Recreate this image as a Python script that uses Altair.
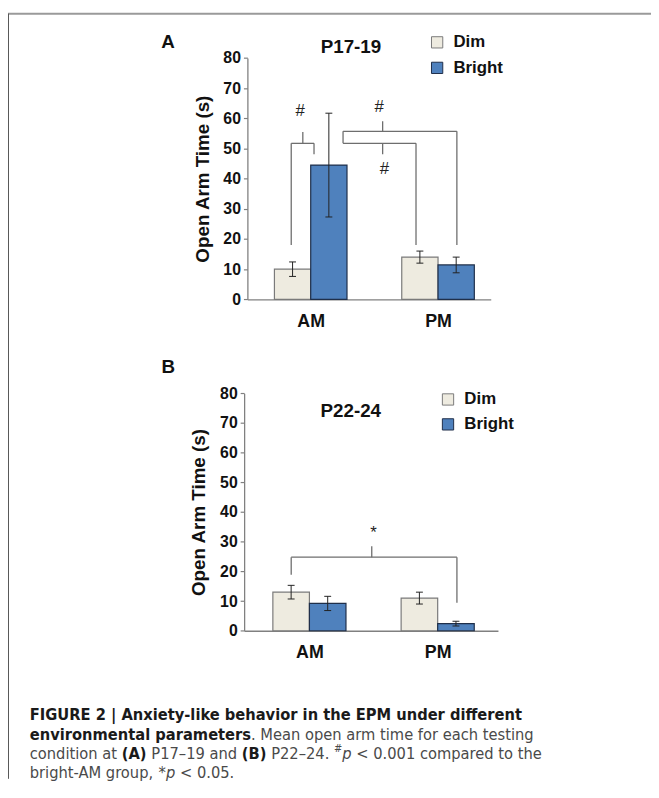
import altair as alt
import pandas as pd

# ---------------- data ----------------
groups = ["AM", "PM"]
series = ["Dim", "Bright"]
y_ticks = [0, 10, 20, 30, 40, 50, 60, 70, 80]

# Panel A (P17-19): mean open arm time (s) and SEM
a_dim_mean = [10.0, 14.0]
a_dim_sem = [2.4, 2.0]
a_bright_mean = [44.5, 11.4]
a_bright_sem = [17.2, 2.6]

# Panel B (P22-24)
b_dim_mean = [13.0, 11.0]
b_dim_sem = [2.3, 2.0]
b_bright_mean = [9.2, 2.4]
b_bright_sem = [2.4, 0.8]

# significance brackets (data units: x = group position, y = seconds)
a_br_left = [0.847, 1.254, 1.254]
a_br_right = [1.026, 2.148, 1.827]
a_br_top = [51.7, 55.7, 51.7]
a_br_left_foot = [18.0, 51.7, 51.7]
a_br_right_foot = [48.1, 18.0, 18.0]
a_br_mid = [0.938, 1.565, 1.565]
a_br_mid_end = [55.5, 59.0, 48.1]
a_sig_x = [0.918, 1.538, 1.578]
a_sig_y = [62.3, 63.8, 43.1]
a_sig_txt = ["#", "#", "#"]

b_br_left = [0.858]
b_br_right = [2.150]
b_br_top = [24.8]
b_br_left_foot = [18.9]
b_br_right_foot = [9.4]
b_br_mid = [1.486]
b_br_mid_end = [28.5]
b_sig_x = [1.50]
b_sig_y = [33.0]
b_sig_txt = ["*"]

title_a = "P17-19"
title_b = "P22-24"
y_title = "Open Arm Time (s)"

# caption: (line, text, weight, style, superscript)
caption_segments = [
    (0, "FIGURE 2 | Anxiety-like behavior in the EPM under different", "bold", "normal", False),
    (1, "environmental parameters", "bold", "normal", False),
    (1, ". Mean open arm time for each testing", "normal", "normal", False),
    (2, "condition at ", "normal", "normal", False),
    (2, "(A)", "bold", "normal", False),
    (2, " P17\u201319 and ", "normal", "normal", False),
    (2, "(B)", "bold", "normal", False),
    (2, " P22\u201324. ", "normal", "normal", False),
    (2, "#", "normal", "normal", True),
    (2, "p", "normal", "italic", False),
    (2, " < 0.001 compared to the", "normal", "normal", False),
    (3, "bright-AM group, ", "normal", "normal", False),
    (3, "*", "normal", "normal", False),
    (3, "p", "normal", "italic", False),
    (3, " < 0.05.", "normal", "normal", False),
]
caption_line_y = [710.3, 730.3, 750, 768.7]
CAP_X0 = 22
CAP_SIZE = 16.5
SUP_SIZE = 11

FONT = "Liberation Sans, Arial, Helvetica, sans-serif"
CAP_FONT = "DejaVu Sans Condensed, DejaVu Sans, sans-serif"
DIM_FILL = "#EEEBE0"
BRIGHT_FILL = "#4F81BD"
DIM_STROKE = "#7a7a7a"
BRIGHT_STROKE = "#1f2f4a"
BW = 0.285  # bar width in group units

# approximate advance widths of DejaVu Sans (units per 2048 em); condensed = 90 %
W_NORMAL = {" ": 651, "#": 1716, "(": 799, ")": 799, "*": 1024, ",": 651,
            "-": 739, ".": 651, "<": 1716, "A": 1401, "B": 1405, "M": 1767,
            "P": 1235, "a": 1255, "b": 1300, "c": 1126, "d": 1300, "e": 1260,
            "g": 1300, "h": 1298, "i": 569, "m": 1995, "n": 1298, "o": 1253,
            "p": 1300, "r": 842, "t": 803, "u": 1298, "\u2013": 1024}
W_BOLD = {" ": 713, "(": 936, ")": 936, "A": 1589, "B": 1566, "a": 1382,
          "e": 1389, "i": 702, "l": 702, "m": 2134, "n": 1460, "o": 1374,
          "p": 1466, "r": 1011, "s": 1219, "t": 979, "v": 1333}


def text_width(txt, size, bold):
    tbl = W_BOLD if bold else W_NORMAL
    u = sum(tbl.get(ch, 1303 if ch.isdigit() else 1250) for ch in txt)
    return u / 2048.0 * size * 0.9


def bar_table(dm, ds, bm, bs):
    rows = []
    for gi, g in enumerate(groups):
        for si, s in enumerate(series):
            m = [dm, bm][si][gi]
            e = [ds, bs][si][gi]
            c = (gi + 1) + (si - 0.5) * BW
            rows.append(dict(group=g, series=s, mean=m, sem=e,
                             xc=c, x0=c - BW / 2, x1=c + BW / 2,
                             lo=m - e, hi=m + e))
    return pd.DataFrame(rows)


def bracket_table(L, R, T, LF, RF, M, ME):
    rows = []
    for i in range(len(L)):
        rows.append(dict(x=L[i], x2=R[i], y=T[i], y2=T[i]))
        rows.append(dict(x=L[i], x2=L[i], y=T[i], y2=LF[i]))
        rows.append(dict(x=R[i], x2=R[i], y=T[i], y2=RF[i]))
        rows.append(dict(x=M[i], x2=M[i], y=T[i], y2=ME[i]))
    return pd.DataFrame(rows)


def panel(df, br, sig, xdom, xrange, yrange, legx, legy, rowpad):
    xs = alt.Scale(domain=xdom, range=xrange, nice=False, zero=False)
    ys = alt.Scale(domain=[0, 80], range=yrange, nice=False, zero=False)
    cs = alt.Scale(domain=series, range=[DIM_FILL, BRIGHT_FILL])
    ss = alt.Scale(domain=series, range=[DIM_STROKE, BRIGHT_STROKE])
    leg = alt.Legend(orient="none", legendX=legx, legendY=legy, title=None,
                     symbolType="square", symbolSize=130, symbolStrokeWidth=1,
                     labelFont=FONT, labelFontSize=17, labelFontWeight="bold",
                     labelColor="#111111", rowPadding=rowpad, labelOffset=8,
                     padding=0, symbolOpacity=1)
    yaxis = alt.Axis(orient="left", offset=-xrange[0], values=y_ticks,
                     tickSize=4, tickColor="#808080", domainColor="#808080",
                     domainWidth=1.3, tickWidth=1.2, grid=False,
                     labelFont=FONT, labelFontSize=16, labelFontWeight="bold",
                     labelColor="#111111", labelPadding=3,
                     title=y_title, titleFont=FONT, titleFontSize=19,
                     titleFontWeight="bold", titleColor="#111111", titlePadding=11)
    xaxis = alt.Axis(orient="bottom", offset=yrange[0] - 775, values=[1, 2],
                     labelExpr=f"{groups}[datum.value - 1]", ticks=False,
                     domainColor="#808080", domainWidth=1.3, grid=False,
                     labelFont=FONT, labelFontSize=18, labelFontWeight="bold",
                     labelColor="#111111", labelPadding=13, title=None)
    bars = alt.Chart(df).mark_bar(strokeWidth=1.2, opacity=1).encode(
        x=alt.X("x0:Q", scale=xs, axis=xaxis),
        x2="x1:Q",
        y=alt.Y("mean:Q", scale=ys, axis=yaxis),
        y2=alt.datum(0),
        color=alt.Color("series:N", scale=cs, legend=leg, sort=series),
        stroke=alt.Stroke("series:N", scale=ss, legend=leg, sort=series),
    )
    err = alt.Chart(df).mark_rule(color="#222222", strokeWidth=1).encode(
        x=alt.X("xc:Q", scale=xs, axis=None),
        y=alt.Y("lo:Q", scale=ys, axis=None),
        y2="hi:Q",
    )
    caps = alt.Chart(df).transform_fold(["lo", "hi"], as_=["k", "v"]).mark_tick(
        orient="horizontal", size=7, thickness=1, color="#222222", opacity=1
    ).encode(
        x=alt.X("xc:Q", scale=xs, axis=None),
        y=alt.Y("v:Q", scale=ys, axis=None),
    )
    brk = alt.Chart(br).mark_rule(color="#6e6e6e", strokeWidth=1.3).encode(
        x=alt.X("x:Q", scale=xs, axis=None),
        x2="x2:Q",
        y=alt.Y("y:Q", scale=ys, axis=None),
        y2="y2:Q",
    )
    sg = alt.Chart(sig).mark_text(font=FONT, fontSize=17, color="#222222",
                                  baseline="middle", align="center").encode(
        x=alt.X("x:Q", scale=xs, axis=None),
        y=alt.Y("y:Q", scale=ys, axis=None),
        text="t:N",
    )
    return [brk, bars, err, caps, sg]


dfa = bar_table(a_dim_mean, a_dim_sem, a_bright_mean, a_bright_sem)
dfb = bar_table(b_dim_mean, b_dim_sem, b_bright_mean, b_bright_sem)
bra = bracket_table(a_br_left, a_br_right, a_br_top, a_br_left_foot,
                    a_br_right_foot, a_br_mid, a_br_mid_end)
brb = bracket_table(b_br_left, b_br_right, b_br_top, b_br_left_foot,
                    b_br_right_foot, b_br_mid, b_br_mid_end)
siga = pd.DataFrame(dict(x=a_sig_x, y=a_sig_y, t=a_sig_txt))
sigb = pd.DataFrame(dict(x=b_sig_x, y=b_sig_y, t=b_sig_txt))

layers = []
layers += panel(dfa, bra, siga, [0.5027, 2.414], [242, 488], [290.3, 46.3],
                425.3, 22, 7.8)
layers += panel(dfb, brb, sigb, [0.491, 2.47], [238.7, 495.3], [625.3, 385.3],
                436.3, 383, 7.2)


def label(txt, x, y, size, weight="bold", color="#111111", font=FONT,
          style="normal", align="center"):
    return alt.Chart(pd.DataFrame({"t": [txt]})).mark_text(
        font=font, fontSize=size, fontWeight=weight, fontStyle=style,
        color=color, align=align, baseline="middle"
    ).encode(x=alt.value(x), y=alt.value(y), text="t:N")


layers.append(label(title_a, 346.7, 35.3, 19))
layers.append(label(title_b, 346.5, 403.7, 19))
layers.append(label("A", 161.7, 30.3, 19))
layers.append(label("B", 162, 358.7, 19))

# caption: segments laid out one after another on each line
cursor = {}
for ln, txt, w, st, sup in caption_segments:
    x = cursor.get(ln, CAP_X0)
    size = SUP_SIZE if sup else CAP_SIZE
    y = caption_line_y[ln] - (5 if sup else 0)
    lead = len(txt) - len(txt.lstrip(" "))
    body = txt.strip(" ")
    x_start = x + text_width(" " * lead, size, w == "bold")
    col = "#1a1a1a" if w == "bold" else "#4a4a4a"
    layers.append(label(body, x_start, y, size, weight=w, color=col,
                        font=CAP_FONT, style=st, align="left"))
    cursor[ln] = x + text_width(txt, size, w == "bold")

frame_top = alt.Chart(pd.DataFrame({"a": [0]})).mark_rule(
    color="#9a9a9a", strokeWidth=2).encode(
    x=alt.value(0), x2=alt.value(650), y=alt.value(1.5))
frame_left = alt.Chart(pd.DataFrame({"a": [0]})).mark_rule(
    color="#555555", strokeWidth=1).encode(
    x=alt.value(0.5), y=alt.value(1.5), y2=alt.value(775))
layers += [frame_top, frame_left]

chart = alt.layer(*layers).resolve_scale(
    x="independent", y="independent", color="independent", stroke="independent"
).properties(
    width=650, height=775, padding=0,
    autosize=alt.AutoSizeParams(type="none"),
).configure_view(stroke=None)

chart.save("out.html", embed_options={"renderer": "svg", "actions": False})
